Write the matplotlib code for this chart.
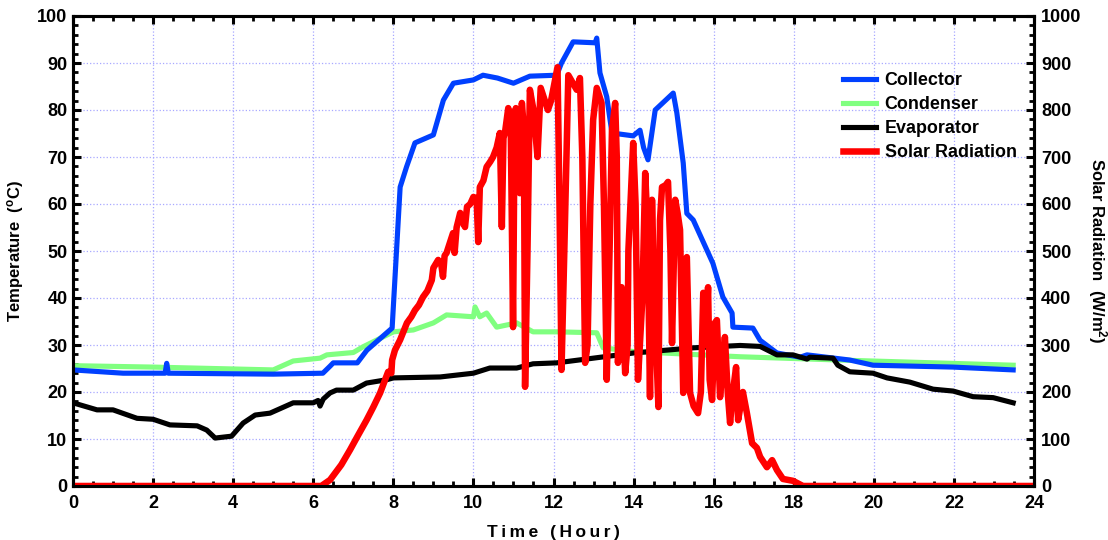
import matplotlib
matplotlib.use("Agg")
import matplotlib.pyplot as plt
from matplotlib.ticker import MultipleLocator

plt.rcParams['font.family'] = ['Liberation Sans', 'DejaVu Sans']
plt.rcParams['font.weight'] = 'bold'
plt.rcParams['mathtext.fontset'] = 'custom'
plt.rcParams['mathtext.rm'] = 'Liberation Sans:bold'
plt.rcParams['mathtext.it'] = 'Liberation Sans:bold'
plt.rcParams['mathtext.bf'] = 'Liberation Sans:bold'

# ---------------- data ----------------
collector_h = [0, 1.25, 2.30, 2.34, 2.38, 5.0, 6.24, 6.42, 6.5, 7.1, 7.34, 7.97, 8.17, 8.33, 8.54,
               9.0, 9.25, 9.5, 10.0, 10.24, 10.6, 11.0, 11.41, 12.08, 12.2, 12.49, 13.04, 13.08,
               13.16, 13.33, 13.46, 13.99, 14.16, 14.25, 14.36, 14.54, 14.99, 15.08, 15.24,
               15.33, 15.49, 15.98, 16.23, 16.46, 16.48, 16.98, 17.16, 17.58, 18.16, 18.33,
               19.4, 19.98, 21.98, 23.48]
collector_t = [24.7, 24.0, 24.0, 26.1, 24.0, 23.8, 24.0, 25.5, 26.2, 26.2, 28.9, 33.6, 63.6, 67.9, 73.0,
               74.7, 82.1, 85.7, 86.4, 87.4, 86.8, 85.7, 87.2, 87.4, 90.0, 94.5, 94.3, 95.3,
               87.9, 82.8, 75.1, 74.5, 75.7, 72.0, 69.4, 80.0, 83.6, 79.4, 68.7,
               58.0, 56.6, 47.4, 40.2, 36.8, 33.8, 33.6, 31.0, 28.3, 27.4, 27.9,
               26.8, 25.7, 25.3, 24.7]

condenser_h = [0, 2.0, 5.0, 5.5, 6.17, 6.34, 7.0, 7.24, 8.0, 8.5, 9.0, 9.33, 10.0, 10.04, 10.16,
               10.33, 10.58, 11.08, 11.49, 12.08, 13.08, 13.24, 14.0, 16.66, 19.15, 23.48]
condenser_t = [25.6, 25.3, 24.7, 26.6, 27.2, 27.9, 28.4, 29.6, 32.8, 33.2, 34.7, 36.4, 36.0, 38.1, 36.0,
               36.8, 33.8, 34.7, 32.8, 32.8, 32.6, 29.4, 28.6, 27.5, 26.8, 25.7]

evaporator_h = [0, 0.6, 1.0, 1.6, 2.0, 2.42, 3.1, 3.34, 3.55, 3.96, 4.25, 4.55, 4.92, 5.5, 6.0,
                6.12, 6.17, 6.25, 6.42, 6.58, 7.0, 7.33, 7.83, 8.0, 9.17, 10.0, 10.41, 11.08,
                11.49, 12.08, 14.0, 15.49, 16.66, 17.16, 17.58, 17.98, 18.33, 18.4, 18.98,
                19.1, 19.4, 19.98, 20.33, 20.9, 21.48, 21.98, 22.48, 22.98, 23.48]
evaporator_t = [17.7, 16.2, 16.2, 14.4, 14.2, 13.0, 12.8, 11.9, 10.2, 10.6, 13.4, 15.1, 15.5, 17.7, 17.7,
                18.2, 17.0, 18.5, 19.8, 20.4, 20.4, 21.9, 22.6, 23.0, 23.2, 24.0, 25.1, 25.1,
                26.0, 26.2, 28.3, 29.4, 29.9, 29.7, 27.9, 27.9, 27.0, 27.4, 27.2,
                25.7, 24.3, 24.0, 23.0, 22.1, 20.6, 20.2, 19.0, 18.8, 17.7]

solar_h = [0, 6.2, 6.42, 6.7, 6.92, 7.1, 7.33, 7.5, 7.67, 7.87, 7.95, 7.97, 8.04, 8.17, 8.34, 8.45,
           8.54, 8.64, 8.74, 8.85, 8.96, 9.0, 9.12, 9.2, 9.24, 9.28, 9.33, 9.42, 9.49, 9.53, 9.58,
           9.67, 9.74, 9.79, 9.84, 9.92, 10.0, 10.08, 10.12, 10.16, 10.25, 10.33, 10.42, 10.49,
           10.58, 10.66, 10.71, 10.75, 10.79, 10.87, 10.93, 10.99, 11.03, 11.06, 11.12, 11.16,
           11.21, 11.26, 11.29, 11.35, 11.41, 11.5, 11.6, 11.68, 11.86, 11.94, 12.1,
           12.15, 12.2, 12.27, 12.37, 12.58, 12.66, 12.72, 12.79, 12.85, 12.92,
           12.99, 13.08, 13.2, 13.26, 13.33, 13.4, 13.46, 13.54, 13.58, 13.61,
           13.7, 13.79, 13.85, 13.87, 13.99, 14.05, 14.11, 14.22, 14.29,
           14.35, 14.41, 14.46, 14.52, 14.62, 14.66, 14.71, 14.8, 14.86, 14.92, 14.96, 15.04,
           15.1, 15.16, 15.24, 15.33, 15.41, 15.5, 15.61, 15.68, 15.74, 15.8, 15.86, 15.9,
           15.96, 16.03, 16.08, 16.16, 16.22, 16.28, 16.35, 16.41, 16.48, 16.56, 16.61, 16.67,
           16.73, 16.83, 16.96, 17.08, 17.16, 17.33, 17.46, 17.58, 17.73, 17.98, 18.23, 24.0]
solar_r = [0, 0, 13, 45, 77, 105, 140, 168, 198, 243, 240, 268, 289, 311, 347, 360,
           374, 385, 402, 415, 438, 464, 481, 470, 445, 490, 496, 520, 538, 496, 550,
           581, 560, 551, 594, 600, 615, 612, 519, 636, 650, 679, 690, 700,
           720, 751, 551, 740, 753, 804, 780, 338, 790, 804, 700, 623,
           815, 760, 211, 500, 843, 800, 700, 847, 800, 820, 891,
           600, 247, 500, 874, 843, 868, 700, 262, 300, 600,
           779, 847, 815, 600, 226, 500, 757, 815, 700, 262,
           423, 240, 300, 500, 730, 600, 226, 400, 666,
           550, 189, 609, 400, 168, 566, 636, 640, 647, 500, 304, 609,
           580, 545, 198, 487, 198, 170, 155, 200, 411, 300, 423, 226,
           183, 347, 353, 189, 250, 317, 200, 134, 200, 253, 140, 170,
           200, 155, 91, 81, 62, 40, 55, 34, 15, 11, 0, 0]

x_ticks = [0, 2, 4, 6, 8, 10, 12, 14, 16, 18, 20, 22, 24]

# ---------------- figure ----------------
fig = plt.figure(figsize=(11.08, 5.40), dpi=100)
ax1 = fig.add_axes([73 / 1108, 1 - 486 / 540, (1034 - 73) / 1108, (486 - 16) / 540])
ax2 = ax1.twinx()

lw = 3.7
l2, = ax1.plot(condenser_h, condenser_t, color='#80ff80', lw=lw, label='Condenser')
l1, = ax1.plot(collector_h, collector_t, color='#0040ff', lw=lw, label='Collector')
l3, = ax1.plot(evaporator_h, evaporator_t, color='black', lw=lw, label='Evaporator')
l4, = ax2.plot(solar_h, solar_r, color='#ff0000', lw=4.7, label='Solar Radiation')

ax1.set_xlim(0, 24)
ax1.set_ylim(0, 100)
ax2.set_ylim(0, 1000)
ax1.set_xticks(x_ticks)
ax1.xaxis.set_minor_locator(MultipleLocator(0.5))
ax1.yaxis.set_major_locator(MultipleLocator(10))
ax1.yaxis.set_minor_locator(MultipleLocator(2))
ax2.yaxis.set_major_locator(MultipleLocator(100))
ax2.yaxis.set_minor_locator(MultipleLocator(20))

ax1.grid(True, which='major', color='#a8a8ff', linestyle=':', linewidth=0.9)

for a in (ax1, ax2):
    for s in a.spines.values():
        s.set_linewidth(2.2)

ax1.tick_params(axis='x', which='both', direction='in', top=True, bottom=True, labelsize=13, pad=6.5)
ax1.tick_params(axis='y', which='both', direction='in', left=True, right=False, labelsize=13, pad=4)
ax2.tick_params(axis='y', which='both', direction='in', labelsize=13, pad=5)
for a in (ax1, ax2):
    a.tick_params(which='major', length=6, width=2.2)
    a.tick_params(which='minor', length=3.5, width=2.0)

ax1.set_xlabel('T\u2009i\u2009m\u2009e\u2009 \u2009(\u2009H\u2009o\u2009u\u2009r\u2009)', fontsize=12.5, fontweight='bold', labelpad=9)
ax1.set_ylabel(r'Temperature  ($^{\mathrm{o}}$C)', fontsize=12, fontweight='bold', labelpad=8)
ax2.set_ylabel(r'Solar Radiation  (W/m$^{2}$)', fontsize=12, fontweight='bold', rotation=270, labelpad=20)

leg = ax2.legend(handles=[l1, l2, l3, l4], loc='upper right', bbox_to_anchor=(0.995, 0.908),
                 frameon=False, fontsize=12.9, handlelength=1.85, handletextpad=0.5,
                 labelspacing=0.4, borderaxespad=0.3)
for t in leg.get_texts():
    t.set_fontweight('bold')

fig.savefig('out.png', dpi=100)
